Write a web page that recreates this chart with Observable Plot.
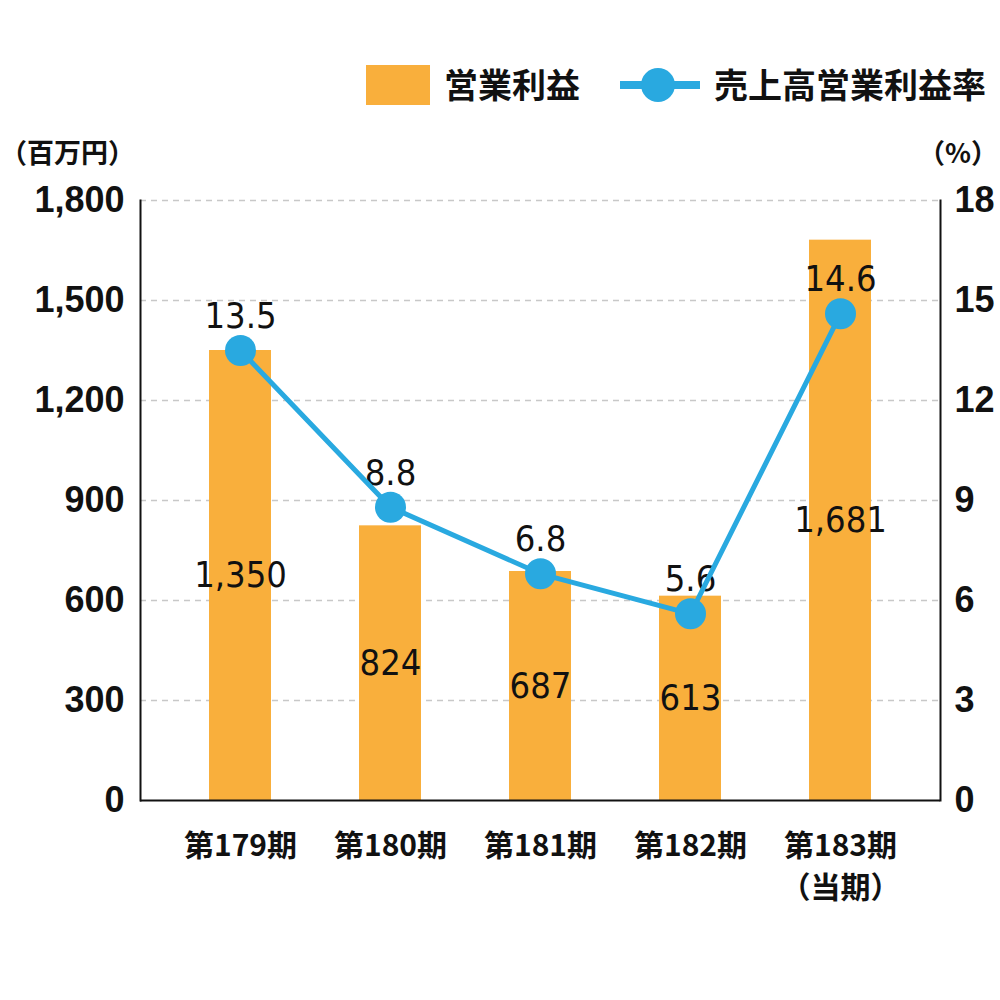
<!DOCTYPE html>
<html>
<head>
<meta charset="utf-8">
<script src="https://cdn.jsdelivr.net/npm/d3@7"></script>
<script src="https://cdn.jsdelivr.net/npm/@observablehq/plot@0.6"></script>
<style>
  body { margin: 0; background: #fff; }
  #wrap { position: relative; width: 1000px; height: 1000px; font-family: "Noto Sans CJK JP", sans-serif; }
  .abs { position: absolute; white-space: nowrap; color: #111; font-weight: bold; }
  #chart { position: absolute; left: 0; top: 0; }
</style>
</head>
<body>
<div id="wrap">
  <div id="chart"></div>
  <div class="abs" style="left:366px; top:65px; width:64px; height:40px; background:#F9AF3C;"></div>
  <div class="abs" style="left:444px; top:61px; font-size:34px; line-height:46px;">営業利益</div>
  <svg class="abs" style="left:618px; top:65px;" width="84" height="40">
    <line x1="2" y1="20" x2="82" y2="20" stroke="#29A9E0" stroke-width="8"></line>
    <circle cx="40" cy="20" r="17" fill="#29A9E0"></circle>
  </svg>
  <div class="abs" style="left:714px; top:61px; font-size:34px; line-height:46px;">売上高営業利益率</div>
  <div class="abs" style="left:0px; top:132px; font-size:27px; line-height:40px;">（百万円）</div>
  <div class="abs" style="right:2px; top:132px; font-size:27px; line-height:40px;">（%）</div>
</div>
<script>
const periods = ["第179期", "第180期", "第181期", "第182期", "第183期"];
const periodLabels = ["第179期", "第180期", "第181期", "第182期", "第183期\n（当期）"];
const operatingProfit = [1350, 824, 687, 613, 1681];
const profitMargin = [13.5, 8.8, 6.8, 5.6, 14.6];
const leftTicks = [0, 300, 600, 900, 1200, 1500, 1800];
const rightTicks = [0, 3, 6, 9, 12, 15, 18];

const data = periods.map((p, i) => ({
  period: p,
  label: periodLabels[i],
  profit: operatingProfit[i],
  rate: profitMargin[i]
}));
const rateScale = 1800 / 18;
const labelOf = new Map(data.map(d => [d.period, d.label]));

const numFont = "'Liberation Sans', Arial, sans-serif";
const narrowFont = "'Liberation Sans Narrow', 'DejaVu Sans Condensed', 'Liberation Sans', sans-serif";

const chart = Plot.plot({
  width: 1000,
  height: 1000,
  marginTop: 200,
  marginBottom: 200,
  marginLeft: 140,
  marginRight: 60,
  style: { background: "transparent", overflow: "visible" },
  x: { domain: periods, paddingInner: 0.587, paddingOuter: 0.46, axis: null },
  y: { domain: [0, 1800], axis: null },
  marks: [
    Plot.ruleY(leftTicks.filter(t => t > 0), { stroke: "#c8c8c8", strokeWidth: 1.5, strokeDasharray: "6,5" }),
    Plot.barY(data, { x: "period", y: "profit", fill: "#F9AF3C" }),
    Plot.text(data, {
      x: "period", y: d => d.profit / 2, text: d => d3.format(",")(d.profit),
      fontSize: 36, fontFamily: narrowFont, fill: "#111"
    }),
    Plot.text(data, {
      x: "period", y: d => d.rate * rateScale, text: d => d.rate.toFixed(1),
      dy: -34, fontSize: 36, fontFamily: narrowFont, fill: "#111"
    }),
    Plot.line(data, { x: "period", y: d => d.rate * rateScale, stroke: "#29A9E0", strokeWidth: 5 }),
    Plot.dot(data, { x: "period", y: d => d.rate * rateScale, r: 15.5, fill: "#29A9E0" }),
    Plot.ruleY([0], { stroke: "#111", strokeWidth: 2 }),
    Plot.frame({ anchor: "left", stroke: "#111", strokeWidth: 2 }),
    Plot.frame({ anchor: "right", stroke: "#111", strokeWidth: 2 }),
    Plot.axisY(leftTicks, {
      anchor: "left", label: null, tickSize: 0, tickPadding: 16, tickFormat: d3.format(","),
      fontSize: 36, fontWeight: "bold", fontFamily: numFont, fill: "#111"
    }),
    Plot.axisY(leftTicks, {
      anchor: "right", label: null, tickSize: 0, tickPadding: 14, tickFormat: d => d / rateScale,
      fontSize: 36, fontWeight: "bold", fontFamily: numFont, fill: "#111"
    }),
    Plot.axisX(periods, {
      anchor: "bottom", label: null, tickSize: 0, tickPadding: 26, tickFormat: d => labelOf.get(d),
      fontSize: 30, fontWeight: "bold", fontFamily: "'Noto Sans CJK JP', sans-serif",
      lineHeight: 1.4, fill: "#111"
    })
  ]
});
document.getElementById("chart").appendChild(chart);
</script>
</body>
</html>
